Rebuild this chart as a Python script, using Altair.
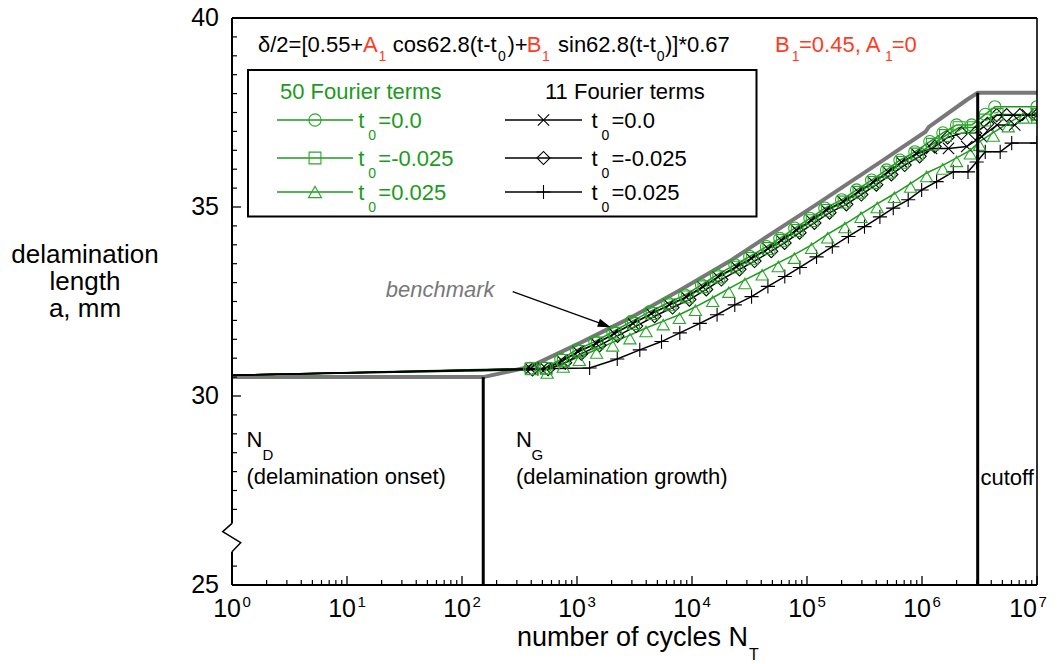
import altair as alt
import pandas as pd

FONT = "Liberation Sans"
GREEN = "#1c9a1c"
MARK_GREEN = "#2aa72a"
RED = "#ff3b1f"
GRAY = "#787878"
BLACK = "#000000"

# plot area (pixels) and the room around it
W, H = 805, 567
PAD = {"left": 232, "top": 18, "right": 22, "bottom": 79}

# ---------------- data ----------------
# benchmark growth curve (cycles, delamination length in mm)
BENCH_N = [1, 153, 388, 1057, 2877, 7834, 21330, 31840, 121100, 460300,
           1072000, 1148000, 2443000, 3050000, 10000000]
BENCH_A = [30.50, 30.50, 30.77, 31.40, 32.06, 32.80, 33.57, 33.92, 35.07, 36.24,
           36.99, 37.12, 37.83, 38.02, 38.02]

# region boundaries: onset (N_D) and cutoff
BOUND_N = [153, 3050000]
BOUND_TOP = [30.50, 38.02]

# 50 Fourier terms, t0 = 0.0
F50_T00_N = [1, 388, 524, 724, 989, 1430, 2050, 2970, 4300, 6150, 8650, 12100, 16300,
             23600, 31800, 44500, 58100, 78300, 106000, 143000, 200000, 270000, 365000,
             492000, 643000, 867000, 1170000, 1520000, 2000000, 2700000, 3550000,
             4300000, 10000000]
F50_T00_A = [30.55, 30.73, 30.74, 30.97, 31.22, 31.44, 31.70, 31.97, 32.23, 32.46, 32.67,
             32.94, 33.20, 33.47, 33.69, 33.95, 34.17, 34.44, 34.70, 34.97, 35.19, 35.45,
             35.71, 35.98, 36.24, 36.46, 36.73, 36.96, 37.17, 37.17, 37.45, 37.65, 37.65]

# 50 Fourier terms, t0 = -0.025
F50_TM_N = [1, 400, 540, 760, 1040, 1500, 2150, 3100, 4500, 6450, 9100, 12700, 17100,
            24700, 33400, 46700, 61000, 82200, 111000, 150000, 210000, 283000, 383000,
            517000, 675000, 910000, 1230000, 1600000, 2100000, 2800000, 3500000,
            4500000, 10000000]
F50_TM_A = [30.55, 30.72, 30.73, 30.94, 31.18, 31.40, 31.66, 31.92, 32.18, 32.41, 32.62,
            32.89, 33.15, 33.41, 33.64, 33.90, 34.12, 34.38, 34.64, 34.91, 35.13, 35.39,
            35.65, 35.92, 36.18, 36.40, 36.66, 36.89, 37.10, 37.10, 37.30, 37.45, 37.45]

# 50 Fourier terms, t0 = 0.025
F50_TP_N = [1, 550, 759, 1047, 1479, 2042, 2884, 3981, 5623, 7762, 10720, 15140, 20890,
            28840, 40740, 56230, 77620, 109600, 151400, 213800, 295100, 407400, 575400,
            794300, 1096000, 1514000, 1995000, 2630000, 3162000, 4169000, 5623000,
            7586000, 10000000]
F50_TP_A = [30.55, 30.70, 30.86, 31.04, 31.23, 31.42, 31.61, 31.80, 31.98, 32.15, 32.36,
            32.60, 32.84, 33.07, 33.30, 33.52, 33.74, 34.00, 34.28, 34.55, 34.82, 35.08,
            35.35, 35.62, 35.90, 36.10, 36.30, 36.50, 36.73, 36.97, 37.22, 37.45, 37.45]

# 11 Fourier terms, t0 = 0.0
F11_T00_N = [1, 395, 535, 745, 1020, 1470, 2110, 3060, 4430, 6340, 8900, 12400, 16800,
             24300, 32800, 45800, 59800, 80700, 109000, 147000, 206000, 278000, 376000,
             507000, 662000, 893000, 1210000, 1700000, 2450000, 3300000, 4500000,
             6400000, 8300000, 10000000]
F11_T00_A = [30.55, 30.72, 30.73, 30.93, 31.17, 31.39, 31.65, 31.92, 32.18, 32.41, 32.62,
             32.89, 33.15, 33.42, 33.64, 33.90, 34.12, 34.39, 34.65, 34.92, 35.14, 35.40,
             35.66, 35.93, 36.19, 36.41, 36.55, 36.55, 36.60, 36.86, 37.17, 37.17, 37.43,
             37.43]

# 11 Fourier terms, t0 = -0.025
F11_TM_N = [1, 410, 560, 790, 1090, 1570, 2250, 3270, 4730, 6770, 9500, 13300, 18000,
            25900, 35000, 48900, 63900, 86200, 116000, 157000, 220000, 297000, 401000,
            541000, 707000, 954000, 1290000, 1670000, 2200000, 2900000, 3700000,
            4460000, 5450000, 7100000, 10000000]
F11_TM_A = [30.55, 30.70, 30.71, 30.88, 31.12, 31.34, 31.59, 31.85, 32.11, 32.34, 32.55,
            32.82, 33.08, 33.35, 33.57, 33.83, 34.05, 34.32, 34.58, 34.85, 35.07, 35.33,
            35.59, 35.86, 36.11, 36.34, 36.60, 36.84, 36.95, 36.95, 37.20, 37.43, 37.43,
            37.43, 37.43]

# 11 Fourier terms, t0 = 0.025
F11_TP_N = [1, 457, 1288, 2239, 3516, 5433, 7834, 11690, 16520, 23550, 32960, 45710,
            64120, 86700, 121100, 166000, 229100, 316200, 430500, 562300, 758600, 993100,
            1340000, 1871000, 2512000, 2985000, 3548000, 4786000, 6026000, 10000000]
F11_TP_A = [30.55, 30.72, 30.74, 30.98, 31.22, 31.44, 31.67, 31.92, 32.15, 32.41, 32.63,
            32.90, 33.16, 33.40, 33.68, 33.95, 34.22, 34.48, 34.74, 34.97, 35.19, 35.45,
            35.67, 35.93, 35.93, 36.19, 36.46, 36.46, 36.69, 36.69]

# axis tick labels
X_TICK_EXP = ["0", "1", "2", "3", "4", "5", "6", "7"]
Y_TICK_LABELS = [25, 30, 35, 40]

# axis break on the y axis (mm) and its zig-zag
BREAK_TOP, BREAK_BOTTOM = 26.63, 25.88
ZIG_N = [1, 0.83, 1.19, 1]
ZIG_A = [26.63, 26.41, 26.12, 25.88]

# arrow from the "benchmark" label to the curve
ARROW_FROM = (276, 32.76)
ARROW_TO = (1739, 31.88)
BENCH_LABEL = (21.7, 32.63)

# ---------------- scales / helpers ----------------
xs = alt.Scale(type="log", domain=[1, 1e7], nice=False)
ys = alt.Scale(domain=[25, 40], nice=False, zero=False)


def xN(f="N"):
    return alt.X(f"{f}:Q", scale=xs, axis=None)


def yA(f="a"):
    return alt.Y(f"{f}:Q", scale=ys, axis=None)


def px(f):
    return alt.X(f"{f}:Q", scale=None, axis=None)


def py(f):
    return alt.Y(f"{f}:Q", scale=None, axis=None)


ONE = pd.DataFrame({"k": [0]})

SHAPES = {
    "circle": ("circle", 150),
    "square": ("square", 140),
    "tri_hang": ("M0,-0.3L1,1.43L-1,1.43Z", 150),
    "tri": ("triangle-up", 170),
    "x": ("M-1,-1L1,1M-1,1L1,-1", 130),
    "diamond": ("diamond", 170),
    "plus": ("M0,-1L0,1M-1,0L1,0", 200),
}


def series_frame(n, a):
    return pd.DataFrame({"N": n, "a": a, "i": list(range(len(n))),
                         "mk": [i > 0 for i in range(len(n))]})


def series_line(n, a, color):
    return alt.Chart(series_frame(n, a)).mark_line(
        color=color, strokeWidth=1.5, clip=True
    ).encode(x=xN(), y=yA(), order=alt.Order("i:Q"))


def series_points(n, a, color, shape_key):
    shape, size = SHAPES[shape_key]
    return alt.Chart(series_frame(n, a)).transform_filter("datum.mk").mark_point(
        shape=shape, size=size, filled=False, color=color, strokeWidth=1.1,
        opacity=1, clip=True
    ).encode(x=xN(), y=yA())


layers = []

# benchmark curve
layers.append(
    alt.Chart(pd.DataFrame({"N": BENCH_N, "a": BENCH_A, "i": list(range(len(BENCH_N)))}))
    .mark_line(color=GRAY, strokeWidth=4, clip=True)
    .encode(x=xN(), y=yA(), order=alt.Order("i:Q"))
)

# green (50 terms) lines under the black (11 terms) lines
SERIES = [
    (F50_TP_N, F50_TP_A, GREEN, MARK_GREEN, "tri_hang"),
    (F50_TM_N, F50_TM_A, GREEN, MARK_GREEN, "square"),
    (F50_T00_N, F50_T00_A, GREEN, MARK_GREEN, "circle"),
    (F11_TP_N, F11_TP_A, BLACK, BLACK, "plus"),
    (F11_T00_N, F11_T00_A, BLACK, BLACK, "x"),
    (F11_TM_N, F11_TM_A, BLACK, BLACK, "diamond"),
]
for n, a, lc, mc, sk in SERIES:
    layers.append(series_line(n, a, lc))
for n, a, lc, mc, sk in SERIES[3:] + SERIES[:3]:
    layers.append(series_points(n, a, mc, sk))

# onset / cutoff boundaries
layers.append(
    alt.Chart(pd.DataFrame({"N": BOUND_N, "top": BOUND_TOP, "bottom": [25, 25]}))
    .mark_rule(color=BLACK, strokeWidth=3)
    .encode(x=xN(), y=yA("top"), y2=alt.Y2("bottom:Q"))
)

# arrow and label for the benchmark
arrow_df = pd.DataFrame({"N1": [ARROW_FROM[0]], "a1": [ARROW_FROM[1]],
                         "N2": [ARROW_TO[0]], "a2": [ARROW_TO[1]]})
layers.append(
    alt.Chart(arrow_df).mark_rule(color=BLACK, strokeWidth=1.2)
    .encode(x=xN("N1"), y=yA("a1"), x2=alt.X2("N2:Q"), y2=alt.Y2("a2:Q"))
)
layers.append(
    alt.Chart(arrow_df).mark_point(shape="M1,0L-1,-0.65L-1,0.65Z", size=169, angle=19.7,
                                   filled=True, color=BLACK, opacity=1)
    .encode(x=xN("N2"), y=yA("a2"))
)
layers.append(
    alt.Chart(pd.DataFrame({"N": [BENCH_LABEL[0]], "a": [BENCH_LABEL[1]]}))
    .mark_text(text="benchmark", font=FONT, fontSize=22, fontStyle="italic",
               color=GRAY, align="left", baseline="alphabetic")
    .encode(x=xN(), y=yA())
)

# ---------------- free text (pixel positions inside the plot frame) ----------------
S, M = 22, 14  # normal and subscript sizes
TEXTS = [
    # formula line
    ("δ/2=[0.55+", 26, 34, BLACK, S), ("A", 131, 34, RED, S), ("1", 146.5, 43, RED, M),
    ("cos62.8(t-t", 160.7, 34, BLACK, S), ("0", 266, 43, BLACK, M),
    (")+", 275.5, 34, BLACK, S), ("B", 294.7, 34, RED, S), ("1", 310, 43, RED, M),
    ("sin62.8(t-t", 326, 34, BLACK, S), ("0", 424.7, 43, BLACK, M),
    (")]*0.67", 433, 34, BLACK, S),
    ("B", 543, 34, RED, S), ("1", 559.7, 43, RED, M), ("=0.45, A", 567, 34, RED, S),
    ("1", 653, 43, RED, M), ("=0", 659.7, 34, RED, S),
    # region labels
    ("N", 14.5, 429.3, BLACK, S), ("D", 30.5, 442, BLACK, 15),
    ("(delamination onset)", 14.5, 465.5, BLACK, S),
    ("N", 284, 429.3, BLACK, S), ("G", 299.5, 442, BLACK, 15),
    ("(delamination growth)", 284, 465.5, BLACK, S),
    ("cutoff", 748.5, 467, BLACK, S),
    # x axis title
    ("number of cycles N", 285, 628, BLACK, 27), ("T", 517, 641.5, BLACK, 16),
    # legend headers
    ("50 Fourier terms", 48, 81, GREEN, S), ("11 Fourier terms", 313, 81, BLACK, S),
]

# legend rows
LEG_ROWS_Y = [102, 140, 174]
LEG_LEFT = [("circle", "=0.0"), ("square", "=-0.025"), ("tri", "=0.025")]
LEG_RIGHT = [("x", "=0.0"), ("diamond", "=-0.025"), ("plus", "=0.025")]
for (sk, lab), yy in zip(LEG_LEFT, LEG_ROWS_Y):
    TEXTS += [("t", 126.3, yy + 7.5, GREEN, S), ("0", 136.3, yy + 19.5, GREEN, M),
              (lab, 146.3, yy + 7.5, GREEN, S)]
for (sk, lab), yy in zip(LEG_RIGHT, LEG_ROWS_Y):
    TEXTS += [("t", 359.5, yy + 7.5, BLACK, S), ("0", 369.5, yy + 19.5, BLACK, M),
              (lab, 379.5, yy + 7.5, BLACK, S)]

# legend frame
layers.append(
    alt.Chart(ONE).mark_rect(fill="white", stroke=BLACK, strokeWidth=2)
    .encode(x=alt.value(16), x2=alt.value(524.5), y=alt.value(52), y2=alt.value(198.5))
)
leg_lines = pd.DataFrame({
    "x1": [45] * 3 + [273] * 3, "x2": [121] * 3 + [350] * 3,
    "y": LEG_ROWS_Y + LEG_ROWS_Y, "c": [GREEN] * 3 + [BLACK] * 3,
})
layers.append(
    alt.Chart(leg_lines).mark_rule(strokeWidth=1.5)
    .encode(x=px("x1"), x2=alt.X2("x2:Q"), y=py("y"),
            color=alt.Color("c:N", scale=None, legend=None))
)
for (sk, _), yy in zip(LEG_LEFT, LEG_ROWS_Y):
    shape, size = SHAPES[sk]
    layers.append(alt.Chart(ONE).mark_point(shape=shape, size=size, filled=False,
                                            color=MARK_GREEN, strokeWidth=1.1, opacity=1)
                  .encode(x=alt.value(83), y=alt.value(yy)))
for (sk, _), yy in zip(LEG_RIGHT, LEG_ROWS_Y):
    shape, size = SHAPES[sk]
    layers.append(alt.Chart(ONE).mark_point(shape=shape, size=size, filled=False,
                                            color=BLACK, strokeWidth=1.1, opacity=1)
                  .encode(x=alt.value(311.5), y=alt.value(yy)))

text_df = pd.DataFrame(TEXTS, columns=["t", "x", "y", "c", "s"])
layers.append(
    alt.Chart(text_df).mark_text(font=FONT, align="left", baseline="alphabetic")
    .encode(x=px("x"), y=py("y"), text="t:N",
            color=alt.Color("c:N", scale=None, legend=None),
            size=alt.Size("s:Q", scale=None, legend=None))
)

# y axis title (first line centred at y; the others follow below)
layers.append(
    alt.Chart(ONE).mark_text(font=FONT, fontSize=26, lineHeight=27, align="center",
                             baseline="middle", color=BLACK)
    .encode(x=alt.value(-147), y=alt.value(237),
            text=alt.value(["delamination", "length", "a, mm"]))
)

# ---------------- frame, ticks and tick labels ----------------
X_MAJOR = [10.0 ** k for k in range(8)]
X_MINOR = [m * 10.0 ** k for k in range(7) for m in range(2, 10)]
Y_MINOR = [v / 2 for v in range(51, 80) if v / 2 not in (26.0, 26.5, 30.0, 35.0)]

layers.append(alt.Chart(pd.DataFrame({"v": X_MAJOR})).mark_rule(color=BLACK, strokeWidth=1.3)
              .encode(x=xN("v"), y=alt.value(H), y2=alt.value(H - 9)))
layers.append(alt.Chart(pd.DataFrame({"v": X_MINOR})).mark_rule(color=BLACK, strokeWidth=1.2)
              .encode(x=xN("v"), y=alt.value(H), y2=alt.value(H - 5)))
layers.append(alt.Chart(pd.DataFrame({"v": Y_TICK_LABELS})).mark_rule(color=BLACK, strokeWidth=1.3)
              .encode(y=yA("v"), x=alt.value(0), x2=alt.value(9)))
layers.append(alt.Chart(pd.DataFrame({"v": Y_MINOR})).mark_rule(color=BLACK, strokeWidth=1.2)
              .encode(y=yA("v"), x=alt.value(0), x2=alt.value(5)))

# frame: top, right, bottom, and the left side broken around the axis break
layers.append(alt.Chart(ONE).mark_rule(color=BLACK, strokeWidth=2)
              .encode(x=alt.value(0), x2=alt.value(W), y=alt.value(0)))
layers.append(alt.Chart(ONE).mark_rule(color=BLACK, strokeWidth=1.6)
              .encode(x=alt.value(W), y=alt.value(0), y2=alt.value(H)))
layers.append(alt.Chart(ONE).mark_rule(color=BLACK, strokeWidth=2)
              .encode(x=alt.value(0), x2=alt.value(W), y=alt.value(H)))
layers.append(
    alt.Chart(pd.DataFrame({"a1": [40, BREAK_BOTTOM], "a2": [BREAK_TOP, 25]}))
    .mark_rule(color=BLACK, strokeWidth=2)
    .encode(x=alt.value(0), y=yA("a1"), y2=alt.Y2("a2:Q"))
)
layers.append(
    alt.Chart(pd.DataFrame({"N": ZIG_N, "a": ZIG_A, "i": list(range(len(ZIG_N)))}))
    .mark_line(color=BLACK, strokeWidth=1.5, clip=False)
    .encode(x=xN(), y=yA(), order=alt.Order("i:Q"))
)

# x tick labels: 10 with a raised exponent
xlab = pd.DataFrame({"N": [10.0 ** int(e) for e in X_TICK_EXP], "exp": X_TICK_EXP,
                     "base": ["10"] * len(X_TICK_EXP)})
inner = alt.Chart(xlab).transform_filter("datum.N < 1e7")
last = alt.Chart(xlab).transform_filter("datum.N >= 1e7")
layers.append(inner.mark_text(font=FONT, fontSize=25, align="right", baseline="alphabetic", dx=9)
              .encode(x=xN(), y=alt.value(599), text="base:N"))
layers.append(inner.mark_text(font=FONT, fontSize=15, align="left", baseline="alphabetic", dx=10.5)
              .encode(x=xN(), y=alt.value(589), text="exp:N"))
layers.append(last.mark_text(font=FONT, fontSize=25, align="right", baseline="alphabetic", dx=0)
              .encode(x=xN(), y=alt.value(599), text="base:N"))
layers.append(last.mark_text(font=FONT, fontSize=15, align="left", baseline="alphabetic", dx=1.5)
              .encode(x=xN(), y=alt.value(589), text="exp:N"))

# y tick labels
layers.append(alt.Chart(pd.DataFrame({"v": Y_TICK_LABELS}))
              .mark_text(font=FONT, fontSize=25, align="right", baseline="middle")
              .encode(x=alt.value(-13), y=yA("v"), text="v:Q"))

chart = (
    alt.layer(*layers)
    .resolve_scale(x="independent", y="independent", color="independent", size="independent")
    .properties(width=W, height=H, padding=PAD, autosize=alt.AutoSizeParams(type="none"),
                background="white")
    .configure_view(stroke="transparent")
)

chart.save("out.html", embed_options={"renderer": "svg", "actions": False})
